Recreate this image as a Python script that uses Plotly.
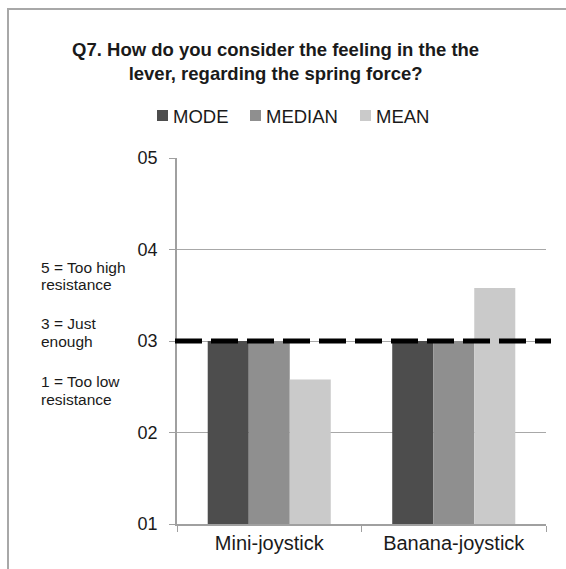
import plotly.graph_objects as go

# Survey answers per joystick (scale 1-5)
categories = ["Mini-joystick", "Banana-joystick"]
series_names = ["MODE", "MEDIAN", "MEAN"]
mode_vals = [3, 3]
median_vals = [3, 3]
mean_vals = [2.58, 3.58]
reference_level = 3
tick_vals = [1, 2, 3, 4, 5]
tick_text = ["01", "02", "03", "04", "05"]
scale_notes = [["5 = Too high", "resistance"], ["3 = Just", "enough"], ["1 = Too low", "resistance"]]

colors = ["#4d4d4d", "#8f8f8f", "#cacaca"]
FONT = "Liberation Sans, Arial, Helvetica, sans-serif"
TXT = "#1a1a1a"

W, H = 566, 569
L, R, T, B = 177, 20, 158, 45
PW, PH = W - L - R, H - T - B


def px_x(px):
    """pixel column -> paper x"""
    return (px - L) / PW


def px_y(py):
    """pixel row -> paper y"""
    return 1 - (py - T) / PH


fig = go.Figure()
for name, vals, col in zip(series_names, [mode_vals, median_vals, mean_vals], colors):
    fig.add_trace(go.Bar(x=categories, y=vals, name=name, showlegend=False,
                         marker=dict(color=col, line=dict(width=0))))

# dashed reference line at "just enough"
fig.add_shape(type="line", xref="paper", yref="y", x0=px_x(175), x1=px_x(551),
              y0=reference_level, y1=reference_level,
              line=dict(color="black", width=5, dash="27px,9px"), layer="above")

# outer frame
fig.add_shape(type="rect", xref="paper", yref="paper",
              x0=px_x(8), x1=px_x(620), y0=px_y(620), y1=px_y(9),
              line=dict(color="#a8a8a8", width=2), layer="below")

# legend: swatch + label
legend_x = [157, 250, 360]
for name, col, lx in zip(series_names, colors, legend_x):
    fig.add_shape(type="rect", xref="paper", yref="paper",
                  x0=px_x(lx), x1=px_x(lx + 11), y0=px_y(121), y1=px_y(110),
                  fillcolor=col, line=dict(width=0))
    fig.add_annotation(text=name, xref="paper", yref="paper",
                       x=px_x(lx + 14), y=px_y(116), xanchor="left", yanchor="middle",
                       showarrow=False, font=dict(family=FONT, size=18.5, color=TXT))

# scale explanation on the left
note_rows = [(267, 284), (323, 341), (381, 399)]
for lines, rows in zip(scale_notes, note_rows):
    for line, row in zip(lines, rows):
        fig.add_annotation(text=line, xref="paper", yref="paper",
                           x=px_x(39), y=px_y(row), xanchor="left", yanchor="middle",
                           showarrow=False, font=dict(family=FONT, size=15.5, color=TXT))

fig.update_layout(
    width=W, height=H,
    margin=dict(l=L, r=R, t=T, b=B),
    paper_bgcolor="white", plot_bgcolor="white",
    barmode="group", bargap=0.333, bargroupgap=0,
    font=dict(family=FONT, color=TXT),
    title=dict(text="<b>Q7. How do you consider the feeling in the the<br>lever, regarding the spring force?</b>",
               x=0.487, xanchor="center", y=1 - 56 / H, yanchor="middle",
               font=dict(family=FONT, size=18.5, color=TXT)),
    showlegend=False,
)

fig.update_xaxes(showline=True, linecolor="#a0a0a0", linewidth=1.5,
                 ticks="outside", ticklen=6, tickcolor="#a0a0a0",
                 tickson="boundaries",
                 tickfont=dict(family=FONT, size=20, color=TXT),
                 showgrid=False)
fig.update_yaxes(range=[1, 5], tickvals=tick_vals, ticktext=tick_text,
                 showline=True, linecolor="#a0a0a0", linewidth=1.5,
                 ticks="outside", ticklen=6, tickcolor="#a0a0a0",
                 ticklabelstandoff=8,
                 showgrid=True, gridcolor="#a8a8a8", gridwidth=1,
                 zeroline=False,
                 tickfont=dict(family=FONT, size=18, color=TXT))

fig.write_html("out.html")
